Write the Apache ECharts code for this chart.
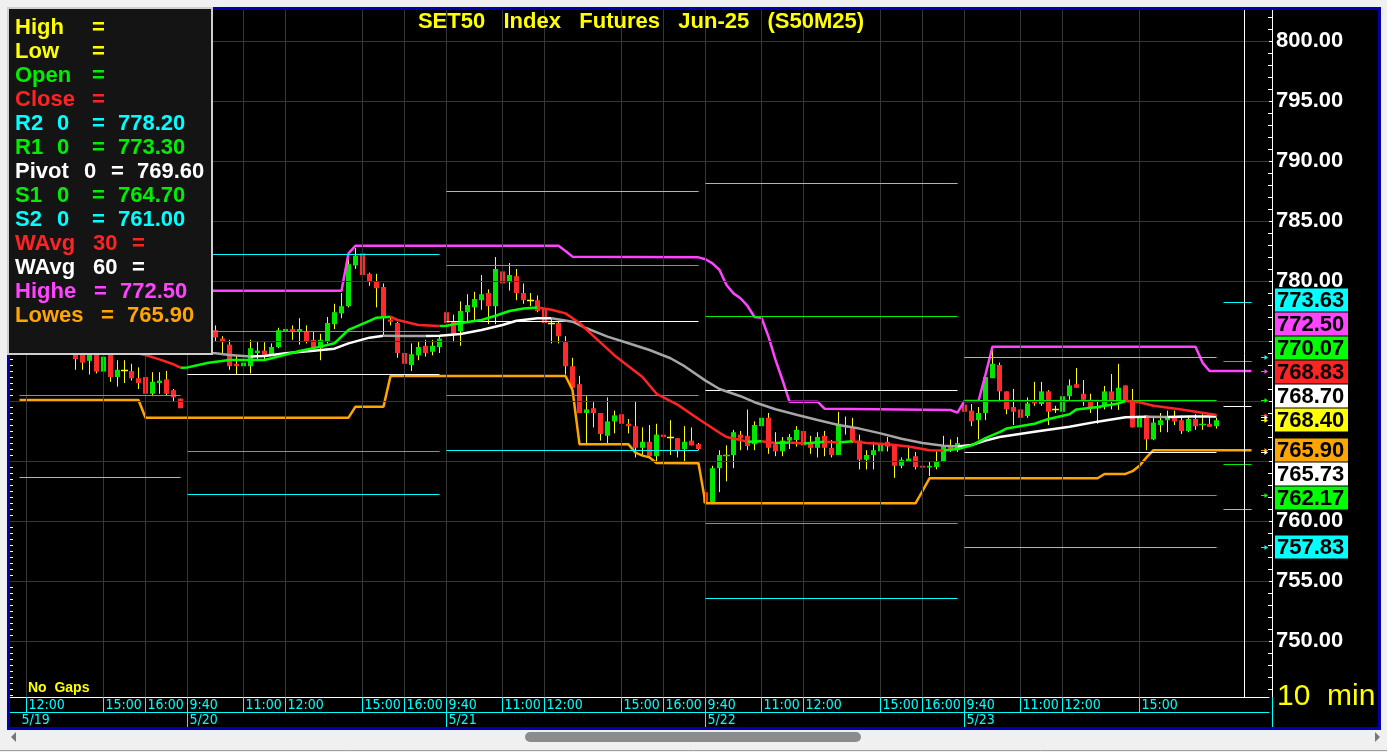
<!DOCTYPE html>
<html><head><meta charset="utf-8">
<script src="https://cdn.jsdelivr.net/npm/echarts@6/dist/echarts.min.js"></script>
<style>html,body{margin:0;padding:0;background:#f0f0f0;overflow:hidden}#chart{width:1387px;height:752px}</style>
</head><body><div id="chart"></div>
<script>
// ---------------- DATA ----------------
const dates = ['5/19', '5/20', '5/21', '5/22', '5/23'];
const morningTimes = ['9:40','9:50','10:00','10:10','10:20','10:30','10:40','10:50','11:00','11:10','11:20','11:30','11:40','11:50','12:00','12:10','12:20','12:30'];
const afternoonTimes = ['13:50','14:00','14:10','14:20','14:30','14:40','14:50','15:00','15:10','15:20','15:30','15:40','15:50','16:00','16:10','16:20','16:30','16:40','16:50'];
const firstDayStart = '11:40';
const firstBar = '5/19 11:50';
const shownTimes = {
  '5/19': ['12:00','15:00','16:00'],
  '5/20': ['9:40','11:00','12:00','15:00','16:00'],
  '5/21': ['9:40','11:00','12:00','15:00','16:00'],
  '5/22': ['9:40','11:00','12:00','15:00','16:00'],
  '5/23': ['9:40','11:00','12:00','15:00']
};
const emptySlots = 7;

// open, close, low, high  (10-minute bars from 5/19 11:50)
const ohlc = [
[777.3,778.0,777.0,778.7],[778.0,777.2,773.7,778.4],[777.2,776.5,776.1,777.6],[776.5,776.9,776.2,777.4],
[776.9,776.3,775.9,777.2],[776.3,776.6,775.8,777.0],[776.6,776.0,775.6,776.9],[776.0,775.9,775.2,776.5],
[775.6,773.5,772.6,775.9],[774.3,773.2,772.6,774.6],[773.35,774.2,772.2,774.5],[774.1,772.45,772.3,774.4],
[772.45,773.7,772.35,774.1],[774.0,772.0,771.6,774.3],[772.0,772.6,771.2,773.4],[772.6,772.6,771.5,773.4],
[772.5,771.9,771.7,773.1],[771.9,771.5,771.0,772.8],[772.0,770.6,768.65,772.7],[770.6,771.6,770.4,772.4],
[771.5,771.7,770.6,772.4],[771.8,770.6,770.5,772.5],[770.9,770.3,770.0,771.0],[770.2,769.4,769.4,770.2],
// 5/20
[775.0,776.0,773.4,776.8],[776.0,776.8,775.6,777.4],[776.8,776.2,775.8,777.5],[776.2,776.6,775.7,777.2],
[775.9,775.3,775.0,776.3],[775.2,774.9,774.0,775.4],[774.7,772.9,772.6,775.1],[773.1,772.9,772.2,773.8],
[772.9,773.2,771.95,773.8],[772.9,774.4,772.3,775.1],[774.0,774.2,773.4,775.0],[774.2,773.8,773.4,774.9],
[773.8,774.5,773.8,774.8],[774.5,775.9,774.4,776.1],[775.8,776.0,775.1,776.6],[776.0,775.8,775.1,776.3],
[775.8,776.0,774.7,776.9],[775.8,775.0,774.8,776.3],[775.1,774.5,774.3,775.8],[774.4,775.1,773.4,775.6],
[775.0,776.5,774.8,777.0],[776.4,777.4,776.0,778.1],[777.3,777.9,776.9,779.0],[777.9,781.4,777.8,781.8],
[781.3,782.1,781.0,782.74],[782.3,780.5,776.9,782.6],[780.6,779.9,779.6,780.7],[780.0,779.4,777.8,780.6],
[779.5,777.0,775.5,779.8],[776.8,776.6,776.3,777.0],[776.5,774.0,773.6,776.6],[774.0,773.1,772.3,775.1],
[773.0,773.9,772.5,774.8],[773.8,774.5,773.4,775.0],[774.6,774.0,773.7,775.1],[774.1,774.6,773.8,775.1],
[774.5,775.2,774.0,775.4],
// 5/21
[777.4,776.5,776.0,777.8],[776.6,775.6,774.9,777.2],[775.8,777.5,774.6,778.3],[777.4,778.0,776.6,778.9],
[777.8,778.5,776.6,779.1],[778.4,778.9,777.6,780.5],[779.0,777.9,776.4,779.3],[777.9,781.0,776.4,782.0],
[780.8,779.8,779.4,781.9],[779.9,780.5,779.2,781.5],[780.4,779.0,778.4,781.0],[779.0,778.4,778.1,779.8],
[778.4,778.4,777.9,779.0],[778.4,777.5,777.4,778.8],[777.7,776.5,775.7,778.2],[776.5,776.5,774.8,776.9],
[776.5,775.4,774.8,776.6],[774.9,772.9,772.2,775.4],[772.9,771.1,771.1,773.6],[771.4,769.0,769.0,772.1],
[769.0,769.3,766.4,770.4],[769.4,769.0,767.8,769.9],[769.0,767.25,766.7,769.0],[767.1,768.3,766.4,770.3],
[768.3,768.8,767.3,769.2],[768.9,768.1,767.3,769.3],[768.1,767.9,767.3,768.5],[767.9,766.1,765.3,770.0],
[766.1,766.6,765.4,767.8],[766.6,765.4,765.2,768.0],[765.4,767.2,764.8,768.1],[767.2,767.0,767.0,767.2],
[767.0,767.0,765.5,768.4],[766.9,765.9,765.3,766.9],[766.0,766.6,764.8,767.9],[766.7,766.3,766.3,767.8],
[766.4,766.0,765.9,766.5],
// 5/22
[762.4,761.5,761.4,764.1],[761.5,764.4,761.4,764.6],[764.4,765.5,762.4,765.9],[765.4,765.5,763.3,766.3],
[765.5,767.4,764.4,767.6],[767.2,766.9,765.9,767.5],[767.1,766.25,765.9,769.29],[766.4,768.0,765.9,768.3],
[767.9,768.6,767.0,769.0],[768.6,766.1,765.6,769.0],[766.4,765.8,765.4,767.4],[765.8,766.7,765.4,767.0],
[766.7,767.0,766.0,767.25],[766.75,767.6,766.2,767.9],[767.5,766.3,765.9,767.5],[766.5,766.1,765.6,767.1],
[766.1,767.0,765.3,767.4],[767.1,766.1,765.4,767.5],[766.1,765.5,765.3,766.75],[765.5,768.1,765.5,769.1],
[768.0,767.8,767.2,768.7],[767.8,766.6,766.5,768.6],[766.7,765.1,764.3,767.2],[765.1,765.5,764.3,765.9],
[765.5,765.9,764.3,766.6],[765.8,766.5,764.9,767.1],[766.6,766.2,765.8,767.0],[766.25,764.6,763.6,766.25],
[764.6,765.1,764.4,765.3],[765.0,765.2,765.0,766.3],[765.4,764.5,764.3,765.75],[764.6,764.45,763.6,765.0],
[764.45,764.6,763.75,765.0],[764.5,765.0,764.3,765.8],[765.0,766.2,764.9,767.1],[766.3,765.9,765.75,766.8],
[765.9,766.5,765.75,767.0],
// 5/23
[769.7,769.1,767.0,769.7],[769.2,768.3,767.9,769.75],[768.4,769.0,766.8,769.5],[769.0,772.0,768.4,772.4],
[771.9,773.1,771.9,774.5],[773.0,770.8,769.9,773.2],[770.8,769.3,768.9,770.8],[769.5,769.1,768.0,771.0],
[769.3,768.6,767.9,769.3],[768.75,769.8,768.6,770.3],[770.0,769.8,769.6,771.6],[769.75,770.8,769.6,771.6],
[770.8,769.1,768.0,770.9],[769.3,769.3,769.0,769.6],[769.1,770.4,768.0,770.4],[770.4,771.3,770.1,771.8],
[771.4,771.1,771.1,772.75],[770.6,770.1,769.6,771.75],[770.1,769.5,769.0,770.6],[769.5,769.5,768.1,770.1],
[769.6,770.8,769.3,771.25],[770.8,769.9,769.3,772.25],[769.9,771.1,769.25,773.1],[771.3,770.0,770.0,771.3],
[769.95,767.8,767.8,771.0],[767.8,768.6,767.25,769.4],[768.8,766.8,765.9,768.8],[766.8,768.2,766.75,768.6],
[768.0,768.4,767.4,769.0],[768.4,768.6,767.4,769.2],[768.6,768.3,768.0,769.2],[768.4,767.5,767.25,768.8],
[767.5,768.5,767.4,768.75],[768.5,767.9,767.6,768.9],[768.0,768.1,767.6,768.9],[768.1,767.85,767.85,768.7],
[767.9,768.4,767.7,768.6]
];

// indicator lines, read at bar numbers (slot 0 = 5/19 11:40)
const wavg30Bar = [1,10,16,19,21,23,24,25,28,31,36,37,41,44,46,48,51,52,54,55,58,61,62,64,67,69,71,73,75,77,79,81,83,86,90,92,95,98,101,102,104,105,107,109,111,113,116,118,120,122,125,128,131,133,135,137,139,141,142,146,148,151,152,155,158,159,161,163,167,172];
const wavg30Val = [775.6,774.8,774.2,773.83,773.47,773.06,772.78,772.8,773.19,773.42,773.42,773.56,774.17,774.53,774.81,775.92,776.67,776.94,777.03,776.75,776.33,776.25,776.27,776.5,776.75,777.1,777.5,777.7,777.8,777.6,777.3,776.5,775.4,773.8,772.0,770.6,769.7,768.5,767.35,767.0,766.75,766.6,766.65,766.5,766.55,766.45,766.6,766.55,766.65,766.5,766.4,766.2,765.9,765.88,766.0,766.3,766.9,767.4,767.7,768.1,768.5,768.9,769.3,769.5,769.8,770.0,769.9,769.6,769.3,768.83];
const wavg60Bar = [1,15,29,31,34,36,39,43,46,48,51,53,56,59,61,64,67,70,72,75,77,80,82,85,88,91,94,96,99,101,104,106,109,112,115,118,121,124,127,130,133,135,137,139,141,146,151,155,159,162,165,168,172];
const wavg60Val = [775.0,774.3,773.97,773.83,773.7,773.75,773.97,774.19,774.36,774.8,775.28,775.44,775.42,775.41,775.43,775.58,775.92,776.33,776.69,776.89,776.9,776.61,776.06,775.36,774.81,774.25,773.56,772.9,771.7,771.0,770.4,769.9,769.31,768.85,768.42,768.0,767.7,767.3,766.85,766.5,766.27,766.2,766.33,766.7,767.0,767.44,767.86,768.28,768.64,768.69,768.66,768.7,768.7];
const highestBar = [1,47,48,49,78,79,80,98,99,100,101,102,103,104,105,106,107,108,109,110,111,115,116,134,135,136,138,139,140,169,170,171,177];
const highestVal = [779.19,779.19,782.3,782.94,782.94,782.5,782.03,781.97,781.81,781.47,780.92,779.67,778.97,778.56,777.92,777.0,776.94,775.36,773.42,771.75,769.94,769.94,769.36,769.25,769.03,770.0,770.0,772.2,774.53,774.53,773.2,772.5,772.5];
const lowestBar = [1,18,19,48,49,53,54,79,80,81,88,89,90,91,92,98,99,129,130,131,155,156,159,160,161,162,163,177];
const lowestVal = [770.08,770.08,768.61,768.61,769.53,769.53,772.08,772.08,770.92,766.39,766.39,765.7,765.45,765.3,764.83,764.81,761.47,761.47,762.5,763.56,763.56,763.92,763.92,764.15,764.6,765.3,765.9,765.9];

// daily floor pivots (5/19 .. 5/23, then next session)
const pivotR2 = [786.3, 782.25, 787.45, 788.15, 773.63, 778.20];
const pivotR1 = [781.8, 775.85, 781.3, 777.06, 770.07, 773.30];
const pivotPP = [775.0, 772.25, 776.62, 770.9, 765.73, 769.60];
const pivotS1 = [770.5, 765.8, 770.5, 759.82, 762.17, 764.70];
const pivotS2 = [763.65, 762.22, 765.9, 753.56, 757.83, 761.00];
const nextSessionBars = 4;
const cursorBar = 176;

const yGridValues = [750,755,760,765,770,775,780,785,790,795,800];
const yAxisLabels = [750,755,760,780,785,790,795,800];
const titleText = 'SET50   Index   Futures   Jun-25   (S50M25)';

// ---------------- COLORS ----------------
const C_UP = '#00e600', C_DN = '#ff2a2a', C_WICK = '#ffff00';
const C_CYAN = '#00ffff', C_GREEN = '#00ee00', C_WHITE = '#ffffff', C_RED = '#ff2323';
const C_MAG = '#ff44ff', C_ORANGE = '#ffa500', C_YELLOW = '#ffff00', C_GRAY = '#a6a6a6';
const C_GRID = '#363636';
const FONT = '"Liberation Sans", Arial, sans-serif';
const NARROW = '"DejaVu Sans Condensed", "Liberation Sans Narrow", sans-serif';

// ---------------- CATEGORIES ----------------
const sessionTimes = morningTimes.concat(afternoonTimes);
const cats = [];
dates.forEach((d, k) => {
  const times = k === 0 ? sessionTimes.slice(sessionTimes.indexOf(firstDayStart)) : sessionTimes;
  times.forEach(t => cats.push(d + ' ' + t));
});
for (let k = 0; k < emptySlots; k++) cats.push('empty' + k);

const timeLabelIdx = new Set();
const dayLabelIdx = new Set();
const dayTickIdx = new Set();
cats.forEach((c, i) => {
  const [d, t] = c.split(' ');
  if (shownTimes[d] && shownTimes[d].indexOf(t) >= 0) timeLabelIdx.add(i);
});
const start0 = cats.indexOf(firstBar);
const candleData = ohlc.map((r, k) => [start0 + k, r[0], r[1], r[2], r[3]]);
const lastBar = start0 + ohlc.length - 1;

const dayRanges = dates.map(d => {
  const idx = candleData.filter(c => cats[c[0]].startsWith(d + ' ')).map(c => c[0]);
  return [idx[0], idx[idx.length - 1]];
});
dayRanges.forEach((r, k) => { dayLabelIdx.add(r[0]); if (k > 0) dayTickIdx.add(r[0]); });
dayRanges.push([lastBar + 1, lastBar + 1 + nextSessionBars]);

// ---------------- HELPERS ----------------
function pairs(bars, vals) { return bars.map((b, k) => [b, vals[k]]); }
function splitBySlope(bars, vals) {
  const up = [], down = [];
  for (let k = 1; k < bars.length; k++) {
    const rising = vals[k] >= vals[k - 1];
    const target = rising ? up : down;
    const last = target[target.length - 1];
    if (!last || last[0] !== bars[k - 1] || last[1] !== vals[k - 1]) {
      if (target.length) target.push([bars[k - 1], null]);
      target.push([bars[k - 1], vals[k - 1]]);
    }
    target.push([bars[k], vals[k]]);
  }
  return { up, down };
}
function lineSeries(data, color, z) {
  return { type: 'line', data, showSymbol: false, symbol: 'none', connectNulls: false,
    lineStyle: { color, width: 2.5 }, z, silent: true, animation: false };
}

function renderCandle(params, api) {
  const i = api.value(0);
  const o = api.value(1), c = api.value(2), l = api.value(3), h = api.value(4);
  const po = api.coord([i, o]), pc = api.coord([i, c]);
  const pl = api.coord([i, l]), ph = api.coord([i, h]);
  const x = Math.floor(po[0]) + 0.5;
  const bw = Math.max(3, Math.round(api.size([1, 0])[0] * 0.72));
  const top = Math.min(po[1], pc[1]), bot = Math.max(po[1], pc[1]);
  const children = [{ type: 'line', shape: { x1: x, y1: ph[1], x2: x, y2: pl[1] },
    style: { stroke: C_WICK, lineWidth: 1 } }];
  if (bot - top >= 1.5) {
    children.push({ type: 'rect', shape: { x: x - bw / 2, y: top, width: bw, height: bot - top },
      style: { fill: c > o ? C_UP : C_DN } });
  } else {
    const yy = Math.round(top) + 0.5;
    children.push({ type: 'line', shape: { x1: x - bw / 2 - 1, y1: yy, x2: x + bw / 2 + 1, y2: yy },
      style: { stroke: c > o ? C_UP : (c < o ? C_DN : C_WICK), lineWidth: 1.5 } });
  }
  return { type: 'group', children };
}

// ---------------- SERIES ----------------
const ma30 = splitBySlope(wavg30Bar, wavg30Val);
const ma60 = splitBySlope(wavg60Bar, wavg60Val);

const pivotSets = [[pivotR2, C_CYAN], [pivotR1, C_GREEN], [pivotPP, C_WHITE], [pivotS1, C_GREEN], [pivotS2, C_CYAN]];
const pivotLines = [];
dayRanges.forEach((r, k) => {
  pivotSets.forEach(([arr, col]) => {
    pivotLines.push([{ coord: [r[0], arr[k]], lineStyle: { color: col, width: 1, type: 'solid' } },
                     { coord: [r[1], arr[k]] }]);
  });
});

const minorTicks = [];
for (let v = 746; v <= 802; v++) minorTicks.push(v);
const leftTicks = [];
for (let v = 745.5; v <= 802.5; v += 0.5) leftTicks.push(v);

const option = {
  backgroundColor: '#000',
  animation: false,
  grid: { left: 9, top: 10, width: 1260, height: 687, containLabel: false },
  xAxis: [
    { type: 'category', data: cats, boundaryGap: true,
      axisLine: { show: true, lineStyle: { color: '#ffffff', width: 1 } },
      axisTick: { show: true, alignWithLabel: true, length: 15, interval: (i) => timeLabelIdx.has(i),
        lineStyle: { color: C_CYAN, width: 1 } },
      axisLabel: { show: true, interval: (i) => timeLabelIdx.has(i), formatter: (v) => (v.split(' ')[1] || ''),
        color: C_CYAN, fontSize: 14, fontFamily: NARROW, align: 'left', padding: [0, 0, 0, 2], margin: 1 },
      splitLine: { show: false } },
    { type: 'category', data: cats, boundaryGap: true, position: 'bottom', offset: 15,
      axisLine: { show: true, lineStyle: { color: C_CYAN, width: 1 } },
      axisTick: { show: true, alignWithLabel: true, length: 15, interval: (i) => dayTickIdx.has(i),
        lineStyle: { color: C_CYAN, width: 1 } },
      axisLabel: { show: true, interval: (i) => dayLabelIdx.has(i), formatter: (v) => (v.indexOf(' ') > 0 ? v.split(' ')[0] : ''),
        color: C_CYAN, fontSize: 14, fontFamily: NARROW, align: 'left', padding: [0, 0, 0, 2], margin: 1 },
      splitLine: { show: false } }
  ],
  yAxis: [
    { type: 'value', position: 'right', offset: 3, min: 745 + 1 / 3, max: 802 + 7 / 12, scale: true,
      axisLine: { show: true, lineStyle: { color: '#ffffff', width: 1 } },
      axisTick: { show: true, inside: true, length: 4, customValues: minorTicks, lineStyle: { color: '#ffffff' } },
      axisLabel: { show: true, customValues: yAxisLabels, formatter: (v) => Number(v).toFixed(2),
        color: '#ffffff', fontSize: 22, fontWeight: 'bold', fontFamily: FONT, margin: 4 },
      splitLine: { show: false } },
    { type: 'value', position: 'left', min: 745 + 1 / 3, max: 802 + 7 / 12, scale: true,
      axisLine: { show: true, lineStyle: { color: '#ffffff', width: 1 } },
      axisTick: { show: true, inside: true, length: 4, customValues: leftTicks, lineStyle: { color: '#ffffff' } },
      axisLabel: { show: false }, splitLine: { show: false } }
  ],
  series: [
    { type: 'line', data: [], z: 1, silent: true,
      markLine: { silent: true, symbol: ['none', 'none'], label: { show: false }, animation: false,
        lineStyle: { color: C_GRID, width: 1, type: 'solid' },
        data: yGridValues.map(v => ({ yAxis: v })).concat([...timeLabelIdx].map(i => ({ xAxis: i }))) } },
    { type: 'line', data: [], z: 2, silent: true,
      markLine: { silent: true, symbol: ['none', 'none'], label: { show: false }, animation: false,
        data: pivotLines.concat([{ xAxis: cursorBar, lineStyle: { color: '#ffffff', width: 1, type: 'solid' } }]) } },
    { type: 'custom', renderItem: renderCandle, data: candleData, z: 3, silent: true,
      encode: { x: 0, y: [1, 2, 3, 4] } },
    lineSeries(pairs(highestBar, highestVal), C_MAG, 4),
    lineSeries(pairs(lowestBar, lowestVal), C_ORANGE, 4),
    lineSeries(ma60.up, C_WHITE, 5),
    lineSeries(ma60.down, C_GRAY, 5),
    lineSeries(ma30.up, '#00ff00', 6),
    lineSeries(ma30.down, C_RED, 6)
  ]
};

const chart = echarts.init(document.getElementById('chart'), null, { renderer: 'canvas', width: 1387, height: 752 });
chart.setOption(option);

// ---------------- OVERLAYS ----------------
const G = [];
function txt(text, x, y, fill, font, align, z) {
  G.push({ type: 'text', z: z || 120, silent: true,
    style: { text, x, y, fill, font, align: align || 'left', verticalAlign: 'middle' } });
}
[[0, 0, 1387, 7], [0, 0, 7, 752], [1381, 0, 6, 752], [0, 730, 1387, 22]].forEach(r =>
  G.push({ type: 'rect', z: 100, silent: true, shape: { x: r[0], y: r[1], width: r[2], height: r[3] }, style: { fill: '#f0f0f0' } }));
G.push({ type: 'rect', z: 101, silent: true, shape: { x: 8.5, y: 8.5, width: 1371, height: 720 },
  style: { fill: null, stroke: '#0000b0', lineWidth: 3 } });
G.push({ type: 'line', z: 101, silent: true, shape: { x1: 0, y1: 750.5, x2: 1387, y2: 750.5 }, style: { stroke: '#a0a0a0', lineWidth: 1 } });
G.push({ type: 'rect', z: 102, silent: true, shape: { x: 525, y: 732, width: 336, height: 10, r: 5 }, style: { fill: '#8c8c8c' } });
G.push({ type: 'polygon', z: 102, silent: true, shape: { points: [[16, 732], [16, 742], [11, 737]] }, style: { fill: '#777' } });
G.push({ type: 'polygon', z: 102, silent: true, shape: { points: [[1375, 732], [1375, 742], [1380, 737]] }, style: { fill: '#777' } });
G.push({ type: 'line', z: 102, silent: true, shape: { x1: 1272.5, y1: 697, x2: 1272.5, y2: 727 }, style: { stroke: C_CYAN, lineWidth: 1 } });
txt(titleText, 641, 22, C_YELLOW, 'bold 22px ' + FONT, 'center');
txt('No  Gaps', 28, 688, C_YELLOW, 'bold 14px ' + FONT);
txt('10  min', 1277, 697, C_YELLOW, '30px ' + FONT);

G.push({ type: 'rect', z: 110, silent: true, shape: { x: 8, y: 8, width: 204, height: 346 },
  style: { fill: '#141414', stroke: '#cfcfcf', lineWidth: 2 } });
const nx = pivotR2.length - 1;
const f2 = v => v.toFixed(2);
const LF = 'bold 22px ' + FONT;
const rows = [
  [['High', 15], ['=', 92]], C_YELLOW,
  [['Low', 15], ['=', 92]], C_YELLOW,
  [['Open', 15], ['=', 92]], C_GREEN,
  [['Close', 15], ['=', 92]], C_RED,
  [['R2', 15], ['0', 57], ['=', 92], [f2(pivotR2[nx]), 118]], C_CYAN,
  [['R1', 15], ['0', 57], ['=', 92], [f2(pivotR1[nx]), 118]], C_GREEN,
  [['Pivot', 15], ['0', 84], ['=', 111], [f2(pivotPP[nx]), 137]], C_WHITE,
  [['S1', 15], ['0', 57], ['=', 92], [f2(pivotS1[nx]), 118]], C_GREEN,
  [['S2', 15], ['0', 57], ['=', 92], [f2(pivotS2[nx]), 118]], C_CYAN,
  [['WAvg', 15], ['30', 93], ['=', 132]], C_RED,
  [['WAvg', 15], ['60', 93], ['=', 132]], C_WHITE,
  [['Highe', 15], ['=', 94], [f2(highestVal[highestVal.length - 1]), 120]], C_MAG,
  [['Lowes', 15], ['=', 101], [f2(lowestVal[lowestVal.length - 1]), 127]], C_ORANGE
];
for (let k = 0; k < rows.length; k += 2) {
  const y = 27.5 + 24 * (k / 2);
  rows[k].forEach(([t, x]) => txt(t, x, y, rows[k + 1], LF, 'left', 115));
}

const last = ohlc[ohlc.length - 1];
const tags = [
  { v: pivotR2[4], bg: C_CYAN }, { v: highestVal[highestVal.length - 1], bg: C_MAG },
  { v: pivotR1[4], bg: '#00ff00' }, { v: wavg30Val[wavg30Val.length - 1], bg: C_RED },
  { v: wavg60Val[wavg60Val.length - 1], bg: C_WHITE }, { v: last[1], bg: C_YELLOW, anchor: true },
  { v: lowestVal[lowestVal.length - 1], bg: C_ORANGE }, { v: pivotPP[4], bg: C_WHITE },
  { v: pivotS1[4], bg: '#00ff00' }, { v: 760, bg: null }, { v: pivotS2[4], bg: C_CYAN }
];
tags.sort((a, b) => b.v - a.v);
tags.forEach(t => { t.nat = chart.convertToPixel({ yAxisIndex: 0 }, t.v); t.y = t.nat; });
const ai = tags.findIndex(t => t.anchor);
const GAP = 24;
for (let k = ai - 1; k >= 0; k--) tags[k].y = Math.min(tags[k].nat, tags[k + 1].y - GAP);
for (let k = ai + 1; k < tags.length; k++) tags[k].y = Math.max(tags[k].nat, tags[k - 1].y + GAP);
tags.forEach(t => {
  if (!t.bg) return;
  G.push({ type: 'rect', z: 120, silent: true, shape: { x: 1275, y: Math.round(t.y) - 11.5, width: 73, height: 23 }, style: { fill: t.bg } });
  txt(t.v.toFixed(2), 1277, Math.round(t.y) + 0.5, '#000000', 'bold 22px ' + FONT, 'left', 121);
  const ay = Math.round(t.nat) + 0.5;
  G.push({ type: 'polyline', z: 121, silent: true, shape: { points: [[1261, ay], [1267, ay]] }, style: { stroke: t.bg, lineWidth: 1 } });
  G.push({ type: 'polygon', z: 121, silent: true, shape: { points: [[1264.5, ay - 2.5], [1268, ay], [1264.5, ay + 2.5]] }, style: { fill: t.bg } });
});

chart.setOption({ graphic: { elements: G } });
</script></body></html>
